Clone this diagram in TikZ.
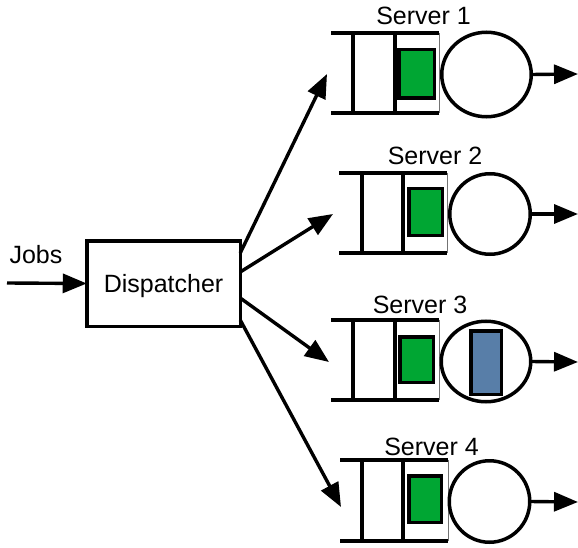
\documentclass[tikz,border=0pt]{standalone}
\usepackage{fontspec}
\setmainfont{Liberation Sans}
\usetikzlibrary{arrows.meta,shapes.geometric}
\definecolor{jobgreen}{RGB}{0,166,51}
\definecolor{jobblue}{RGB}{88,126,168}
\begin{document}
\begin{tikzpicture}[x=1pt,y=-1pt,
  every node/.style={font=\fontsize{25}{29}\selectfont, inner sep=0pt, outer sep=0pt},
  qline/.style={line width=3.6pt},
  qend/.style={line width=1pt, black!55},
  arr/.style={line width=3.4pt,-{Triangle[length=24pt,width=19pt]}},
  jobbox/.style={draw, line width=3.5pt, fill=jobgreen, rectangle},
  bluejob/.style={draw, line width=3.5pt, fill=jobblue, rectangle},
  srv/.style={draw, line width=3.5pt, ellipse},
  disp/.style={draw, line width=3.5pt, rectangle, minimum width=153.5pt, minimum height=85.5pt, text height=18pt, text depth=0pt},
  lbl/.style={anchor=base}
]
\useasboundingbox (0,0) rectangle (578,548);

% Dispatcher
\node[disp] (dispatcher) at (163.5,283.5) {Dispatcher};
\node[lbl] (jobs) at (36,263) {Jobs};
\coordinate (jobsin) at (7,283);
\draw[arr] (jobsin) -- (dispatcher.west);

% Server 1
\node[lbl] (s1lbl) at (423.5,25) {Server 1};
\draw[qline] (331,33) -- (439,33) (331,113) -- (439,113);
\draw[qline] (353,33) -- (353,113) (395,33) -- (395,113);
\draw[qend] (439,33) -- (439,113);
\node[jobbox, minimum width=35.5pt, minimum height=48.5pt] (g1) at (416.5,74) {};
\node[srv, minimum width=89.5pt, minimum height=84.5pt] (c1) at (486.5,74.5) {};
\coordinate (o1) at (578,74);
\draw[arr] (c1.east) -- (o1);
\coordinate (in1) at (327,74);

% Server 2
\node[lbl] (s2lbl) at (435,165) {Server 2};
\draw[qline] (339,173) -- (447,173) (339,253) -- (447,253);
\draw[qline] (362,173) -- (362,253) (403,173) -- (403,253);
\draw[qend] (447,173) -- (447,253);
\node[jobbox, minimum width=33.5pt, minimum height=46.5pt] (g2) at (425.5,212) {};
\node[srv, minimum width=80.5pt, minimum height=80.5pt] (c2) at (490,214) {};
\coordinate (o2) at (578,214);
\draw[arr] (c2.east) -- (o2);
\coordinate (in2) at (333,214);

% Server 3
\node[lbl] (s3lbl) at (420,313) {Server 3};
\draw[qline] (331,320) -- (439,320) (331,400) -- (439,400);
\draw[qline] (353,320) -- (353,400) (395,320) -- (395,400);
\draw[qend] (439,320) -- (439,400);
\node[jobbox, minimum width=33.5pt, minimum height=45.5pt] (g3) at (416.5,359.5) {};
\node[srv, minimum width=89.5pt, minimum height=80.5pt] (c3) at (486,361.5) {};
\node[bluejob, minimum width=30.5pt, minimum height=63.5pt] (b3) at (486,362.5) {};
\coordinate (o3) at (578,362);
\draw[arr] (c3.east) -- (o3);
\coordinate (in3) at (329,362);

% Server 4
\node[lbl] (s4lbl) at (431.5,455) {Server 4};
\draw[qline] (340,460) -- (448,460) (340,541) -- (448,541);
\draw[qline] (362,460) -- (362,541) (403,460) -- (403,541);
\draw[qend] (448,460) -- (448,541);
\node[jobbox, minimum width=32.5pt, minimum height=46.5pt] (g4) at (425,499) {};
\node[srv, minimum width=80.5pt, minimum height=81.5pt] (c4) at (489.5,501.5) {};
\coordinate (o4) at (578,502);
\draw[arr] (c4.east) -- (o4);
\coordinate (in4) at (341,507);

% Dispatcher to servers
\draw[arr] ([yshift=30.5pt]dispatcher.east) -- (in1);
\draw[arr] ([yshift=11.5pt]dispatcher.east) -- (in2);
\draw[arr] ([yshift=-14.5pt]dispatcher.east) -- (in3);
\draw[arr] ([yshift=-36.5pt]dispatcher.east) -- (in4);
\end{tikzpicture}
\end{document}
